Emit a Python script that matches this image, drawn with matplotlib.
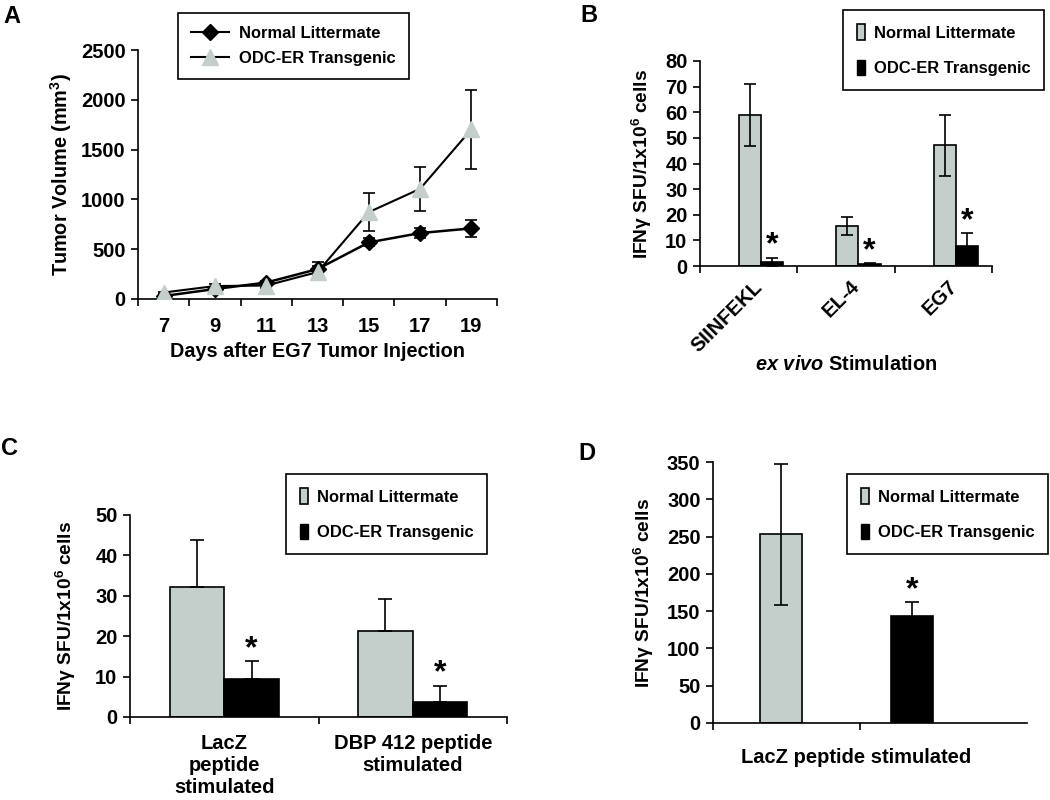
import numpy as np
import matplotlib
matplotlib.use("Agg")
import matplotlib.pyplot as plt
from matplotlib.lines import Line2D
from matplotlib.patches import Patch

plt.rcParams["font.family"] = ["Liberation Sans", "DejaVu Sans"]
plt.rcParams["font.weight"] = "bold"
plt.rcParams["mathtext.fontset"] = "custom"
plt.rcParams["mathtext.rm"] = "Liberation Sans:bold"
plt.rcParams["mathtext.it"] = "Liberation Sans:italic:bold"
plt.rcParams["mathtext.bf"] = "Liberation Sans:bold"
plt.rcParams["mathtext.default"] = "rm"

GRAY = "#c4cfcc"
series = ["Normal Littermate", "ODC-ER Transgenic"]
ylab_ifn = "IFNγ SFU/1x10$^{6}$ cells"

# Panel A - tumour growth
days = [7, 9, 11, 13, 15, 17, 19]
vol_normal = [30, 100, 165, 300, 568, 662, 709]
err_normal = [10, 15, 20, 70, 40, 50, 85]
vol_tg = [65, 130, 135, 270, 872, 1106, 1704]
err_tg = [10, 20, 20, 60, 190, 220, 395]

# Panel B - ex vivo stimulation
stim_b = ["SIINFEKL", "EL-4", "EG7"]
b_normal = [58.9, 15.7, 47.1]
b_normal_err = [12.0, 3.5, 12.0]
b_tg = [1.6, 0.7, 7.8]
b_tg_err = [1.7, 0.3, 4.9]

# Panel C
stim_c = ["LacZ\npeptide\nstimulated", "DBP 412 peptide\nstimulated"]
c_normal = [32.2, 21.3]
c_normal_err = [11.6, 8.0]
c_tg = [9.3, 3.7]
c_tg_err = [4.5, 4.0]

# Panel D
d_values = [253, 143.5]
d_err = [94.5, 18.5]
d_label = "LacZ peptide stimulated"

W, H = 1050, 800
fig = plt.figure(figsize=(W / 100, H / 100), dpi=100)

TICK = 14.5
LAB = 14.3
LEG = 11.9


def px_axes(left, top, right, bottom):
    return fig.add_axes([left / W, 1 - bottom / H, (right - left) / W, (bottom - top) / H])


def style(ax):
    for s in ["top", "right"]:
        ax.spines[s].set_visible(False)
    for s in ["left", "bottom"]:
        ax.spines[s].set_linewidth(1.2)
    ax.tick_params(axis="y", direction="out", length=5, width=1.2, labelsize=TICK, pad=4)
    ax.tick_params(axis="x", which="major", direction="out", length=5, width=1.2, labelbottom=False)
    ax.tick_params(axis="x", which="minor", length=0, labelsize=TICK)


def box_legend(ax, handles, x, y, **kw):
    leg = ax.legend(handles=handles, loc="upper left", bbox_to_anchor=(x / W, 1 - y / H),
                    bbox_transform=fig.transFigure, borderaxespad=0, fancybox=False,
                    edgecolor="black", framealpha=1, prop={"size": LEG, "weight": "bold"}, **kw)
    leg.get_frame().set_linewidth(1.2)
    return leg


def star(ax, x, y):
    ax.annotate("*", (x, y), xytext=(0, -2), textcoords="offset points",
                ha="center", va="bottom", fontsize=23, fontweight="bold")


bar_handles = [Patch(facecolor=GRAY, edgecolor="black", linewidth=1.2, label=series[0]),
               Patch(facecolor="black", edgecolor="black", label=series[1])]
bar_leg_kw = dict(handlelength=0.5, handleheight=1.1, borderpad=0.85, labelspacing=1.15,
                  handletextpad=0.5)

# ---------- A ----------
axA = px_axes(138, 50, 497, 299)
xa = np.arange(len(days))
axA.errorbar(xa, vol_normal, yerr=err_normal, color="black", lw=1.8, marker="D", ms=8,
             mfc="black", mec="black", capsize=4, elinewidth=1.2, capthick=1.2, zorder=3)
axA.errorbar(xa, vol_tg, yerr=err_tg, color="black", lw=1.5, marker="^", ms=12,
             mfc=GRAY, mec=GRAY, capsize=4, elinewidth=1.2, capthick=1.2, zorder=3)
axA.set_xlim(-0.5, len(days) - 0.5)
axA.set_ylim(0, 2500)
axA.set_yticks([0, 500, 1000, 1500, 2000, 2500])
axA.set_xticks(np.arange(len(days) + 1) - 0.5)
axA.set_xticks(xa, [str(d) for d in days], minor=True)
style(axA)
axA.tick_params(axis="x", which="minor", pad=13)
axA.set_xlabel("Days after EG7 Tumor Injection", fontsize=LAB, fontweight="bold", labelpad=4)
axA.set_ylabel("Tumor Volume (mm$^{3}$)", fontsize=LAB, fontweight="bold", labelpad=5)
line_handles = [Line2D([], [], color="black", lw=1.5, marker="D", ms=8, label=series[0]),
                Line2D([], [], color="black", lw=1.5, marker="^", ms=12, mfc=GRAY, mec=GRAY,
                       label=series[1])]
box_legend(axA, line_handles, 178, 13, handlelength=2.3, borderpad=0.8, labelspacing=0.6,
           handletextpad=0.6)

# ---------- B ----------
axB = px_axes(700, 61, 992, 266)
xb = np.arange(len(stim_b))
wb = 0.228
axB.bar(xb - 0.10, b_normal, wb, align="edge", color=GRAY, edgecolor="black", lw=1.2,
        yerr=b_normal_err, error_kw=dict(capsize=4, elinewidth=1.2, capthick=1.2),
        ecolor="black", zorder=2)
axB.bar(xb - 0.10 + wb, b_tg, wb, align="edge", color="black", edgecolor="black", lw=1.2,
        yerr=b_tg_err, error_kw=dict(capsize=4, elinewidth=1.2, capthick=1.2),
        ecolor="black", zorder=2)
for i in range(len(stim_b)):
    star(axB, xb[i] - 0.10 + 1.5 * wb, b_tg[i] + b_tg_err[i])
axB.set_xlim(-0.5, len(stim_b) - 0.5)
axB.set_ylim(0, 80)
axB.set_yticks(np.arange(0, 81, 10))
axB.set_xticks(np.arange(len(stim_b) + 1) - 0.5)
axB.set_xticks(xb + 0.18, stim_b, minor=True)
style(axB)
axB.tick_params(axis="x", which="minor", labelsize=TICK, pad=8, labelrotation=45)
for t in axB.get_xticklabels(minor=True):
    t.set_ha("right")
axB.set_xlabel(r"$\mathit{ex\ vivo}$ Stimulation", fontsize=LAB, fontweight="bold", labelpad=0)
axB.set_ylabel(ylab_ifn, fontsize=13.8, fontweight="bold", labelpad=8)
box_legend(axB, bar_handles, 843, 10, **bar_leg_kw)

# ---------- C ----------
axC = px_axes(130, 515, 507, 717)
xc = np.arange(len(stim_c))
wc = 0.29
axC.bar(xc - wc / 2, c_normal, wc, color=GRAY, edgecolor="black", lw=1.2,
        yerr=[np.zeros(len(c_normal)), c_normal_err], error_kw=dict(capsize=5, elinewidth=1.2,
        capthick=1.2), ecolor="black", zorder=2)
axC.bar(xc + wc / 2, c_tg, wc, color="black", edgecolor="black", lw=1.2,
        yerr=[np.zeros(len(c_tg)), c_tg_err], error_kw=dict(capsize=5, elinewidth=1.2,
        capthick=1.2), ecolor="black", zorder=2)
for i in range(len(stim_c)):
    star(axC, xc[i] + wc / 2, c_tg[i] + c_tg_err[i])
axC.set_xlim(-0.5, len(stim_c) - 0.5)
axC.set_ylim(0, 50)
axC.set_yticks(np.arange(0, 51, 10))
axC.set_xticks(np.arange(len(stim_c) + 1) - 0.5)
axC.set_xticks(xc, stim_c, minor=True)
style(axC)
axC.tick_params(axis="x", which="minor", labelsize=TICK, pad=12)
for t in axC.get_xticklabels(minor=True):
    t.set_linespacing(1.2)
axC.set_ylabel(ylab_ifn, fontsize=13.8, fontweight="bold", labelpad=12)
box_legend(axC, bar_handles, 286, 474, **bar_leg_kw)

# ---------- D ----------
axD = px_axes(713, 462, 1027, 723)
xd = [0.218, 0.635]
axD.bar(xd[0], d_values[0], 0.134, color=GRAY, edgecolor="black", lw=1.2, yerr=d_err[0],
        error_kw=dict(capsize=5, elinewidth=1.2, capthick=1.2), ecolor="black", zorder=2)
axD.bar(xd[1], d_values[1], 0.134, color="black", edgecolor="black", lw=1.2, yerr=d_err[1],
        error_kw=dict(capsize=5, elinewidth=1.2, capthick=1.2), ecolor="black", zorder=2)
star(axD, xd[1], d_values[1] + d_err[1])
axD.set_xlim(0, 1)
axD.set_ylim(0, 350)
axD.set_yticks(np.arange(0, 351, 50))
axD.set_xticks([0, 0.469])
axD.set_xticks([0.457], [d_label], minor=True)
style(axD)
axD.tick_params(axis="x", which="minor", labelsize=TICK, pad=18)
axD.set_ylabel(ylab_ifn, fontsize=13.8, fontweight="bold", labelpad=8)
box_legend(axD, bar_handles, 847, 474, **bar_leg_kw)

# panel letters
for letter, x, y in [("A", 3, 5), ("B", 580, 4), ("C", 1, 437), ("D", 578, 442)]:
    fig.text(x / W, 1 - y / H, letter, fontsize=17, fontweight="bold", va="top", ha="left")

fig.savefig("out.png", dpi=100)
